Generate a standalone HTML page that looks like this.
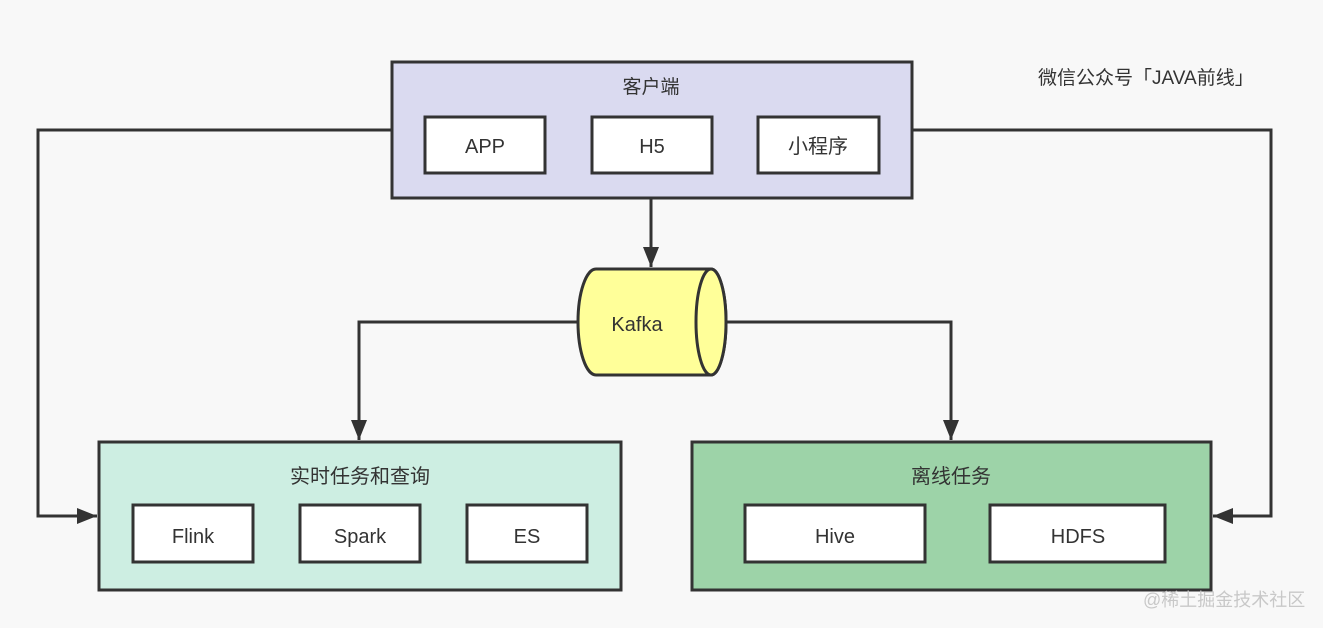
<!DOCTYPE html>
<html><head><meta charset="utf-8"><style>
html,body{margin:0;padding:0;background:#f8f8f8;}
svg{display:block}
text{font-family:"Liberation Sans","Noto Sans CJK SC",sans-serif;fill:#333;}
</style></head><body>
<svg width="1323" height="628" viewBox="0 0 1323 628" xmlns="http://www.w3.org/2000/svg">
<rect width="1323" height="628" fill="#f8f8f8"/>
<defs><marker id="a" markerWidth="22" markerHeight="16" refX="20" refY="8" orient="auto" markerUnits="userSpaceOnUse"><path d="M0,0 L20,8 L0,16 Z" fill="#333"/></marker></defs>
<g stroke="#333" stroke-width="3" fill="none">
<polyline points="391,130 38,130 38,516 97,516" marker-end="url(#a)"/>
<polyline points="912,130 1271,130 1271,516 1213,516" marker-end="url(#a)"/>
<polyline points="651,198 651,267" marker-end="url(#a)"/>
<polyline points="577,322 359,322 359,440" marker-end="url(#a)"/>
<polyline points="726,322 951,322 951,440" marker-end="url(#a)"/>
</g>
<rect x="392" y="62" width="520" height="136" fill="#dadaf0" stroke="#333" stroke-width="3"/>
<text x="651" y="93" font-size="19" text-anchor="middle">客户端</text>
<g stroke="#333" stroke-width="3" fill="#fff">
<rect x="425" y="117" width="120" height="56"/>
<rect x="592" y="117" width="120" height="56"/>
<rect x="758" y="117" width="121" height="56"/>
</g>
<text x="485" y="153" font-size="20" text-anchor="middle">APP</text>
<text x="652" y="153" font-size="20" text-anchor="middle">H5</text>
<text x="818" y="153" font-size="20" text-anchor="middle">小程序</text>
<path d="M596,269 L711,269 A15,53 0 0 1 711,375 L596,375 A18,53 0 0 1 596,269 Z" fill="#ffff99" stroke="#333" stroke-width="3"/>
<ellipse cx="711" cy="322" rx="15" ry="53" fill="#ffff99" stroke="#333" stroke-width="3"/>
<text x="637" y="331" font-size="20" text-anchor="middle">Kafka</text>
<rect x="99" y="442" width="522" height="148" fill="#cdeee2" stroke="#333" stroke-width="3"/>
<text x="360" y="483" font-size="20" text-anchor="middle">实时任务和查询</text>
<g stroke="#333" stroke-width="3" fill="#fff">
<rect x="133" y="505" width="120" height="57"/>
<rect x="300" y="505" width="120" height="57"/>
<rect x="467" y="505" width="120" height="57"/>
</g>
<text x="193" y="543" font-size="20" text-anchor="middle">Flink</text>
<text x="360" y="543" font-size="20" text-anchor="middle">Spark</text>
<text x="527" y="543" font-size="20" text-anchor="middle">ES</text>
<rect x="692" y="442" width="519" height="148" fill="#9dd3a8" stroke="#333" stroke-width="3"/>
<text x="951" y="483" font-size="20" text-anchor="middle">离线任务</text>
<rect x="745" y="505" width="180" height="57" fill="#fff" stroke="#333" stroke-width="3"/>
<rect x="990" y="505" width="175" height="57" fill="#fff" stroke="#333" stroke-width="3"/>
<text x="835" y="543" font-size="20" text-anchor="middle">Hive</text>
<text x="1078" y="543" font-size="20" text-anchor="middle">HDFS</text>
<text x="1038" y="84" font-size="19">微信公众号「JAVA前线」</text>
<text x="1143" y="606" font-size="18" style="fill:#c8c8c8">@稀土掘金技术社区</text>
</svg>
</body></html>
